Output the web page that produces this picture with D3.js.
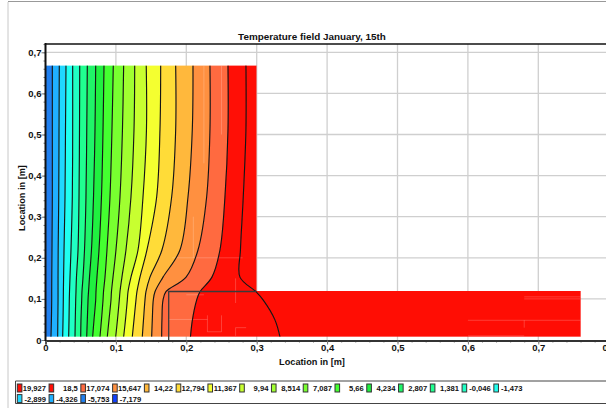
<!DOCTYPE html>
<html><head><meta charset="utf-8">
<script src="https://cdn.jsdelivr.net/npm/d3@7"></script>
<style>
html,body{margin:0;padding:0;background:#fff;overflow:hidden}
svg{display:block}
text{font-family:"Liberation Sans",Arial,sans-serif;font-weight:bold;fill:#111}
</style></head><body>
<svg id="c" width="606" height="408"></svg>
<script>
const titleText = "Temperature field January, 15th";
const axisLabel = "Location in [m]";
const xTicks = [0,0.1,0.2,0.3,0.4,0.5,0.6,0.7,0.8];
const yTicks = [0,0.1,0.2,0.3,0.4,0.5,0.6,0.7];
const legendLabels = ["19,927","18,5","17,074","15,647","14,22","12,794","11,367","9,94","8,514","7,087","5,66","4,234","2,807","1,381","-0,046","-1,473","-2,899","-4,326","-5,753","-7,179"];
const legendColors = ["#ff0d04","#ff0f06","#ff6a40","#ff9040","#ffb83c","#ffdc38","#f4ff30","#c8ff30","#a0ff30","#78ff30","#44ff30","#20f040","#20f468","#20ff90","#20ffc4","#20fff0","#20d8ff","#20b0ff","#2080f0","#1040ff"];
const levels = [0.668,0.511,0.348,0.219,0.153,0.1175,0.097,0.049,0.008];
const iso01 = [.0097,.0097,.0097,.0092,.0089,.0088,.0088,.0084,.0078];
const iso02 = [.0196,.0192,.0188,.0180,.0178,.0178,.0178,.0175,.0173];
const iso03 = [.0291,.0284,.0277,.0263,.0257,.0254,.0253,.0249,.0244];
const iso04 = [.0386,.0386,.0381,.0362,.0348,.0341,.0338,.0334,.0329];
const iso05 = [.0486,.0483,.0476,.0462,.0440,.0433,.0429,.0423,.0419];
const iso06 = [.0594,.0586,.0575,.0554,.0533,.0518,.0514,.0504,.0500];
const iso07 = [.0713,.0703,.0682,.0653,.0625,.0611,.0604,.0594,.0585];
const iso08 = [.0831,.0817,.0795,.0760,.0731,.0717,.0713,.0689,.0670];
const iso09 = [.0963,.0944,.0916,.0873,.0845,.0824,.0817,.0795,.0774];
const iso10 = [.1110,.1093,.1058,.1001,.0959,.0937,.0930,.0902,.0878];
const iso11 = [.1267,.1257,.1214,.1143,.1086,.1058,.1048,.1022,.0997];
const iso12 = [.1431,.1434,.1385,.1314,.1214,.1172,.1162,.1136,.1110];
const iso13 = [.1636,.1626,.1579,.1441,.1342,.1299,.1285,.1257,.1233];
const iso14 = [.1849,.1849,.1792,.1654,.1484,.1427,.1413,.1392,.1375];
const iso15 = [.2095,.2085,.2024,.1910,.1669,.1555,.1531,.1517,.1508];
const iso16 = [.2336,.2336,.2289,.2166,.1997,.1711,.1669,.1654,.1650];
const iso17 = [.2592,.2592,.2549,.2478,.2364,.2194,.2147,.2087,.2059];
const iso18 = [.2847,.2847,.2809,.2769,.2762,.2989,.3093,.3259,.3330];
const isotherms = [iso01,iso02,iso03,iso04,iso05,iso06,iso07,iso08,iso09,iso10,iso11,iso12,iso13,iso14,iso15,iso16,iso17,iso18];
// L-shaped domain outline [x, y] in metres
const domain = [[0,0.668],[0.2997,0.668],[0.2997,0.119],[0.7603,0.119],[0.7603,0.008],[0,0.008]];
// Material boundary between layers
const boundary = [[0.175,0],[0.175,0.118],[0.2997,0.118]];
// Faint mesh artefacts [x0,y0,x1,y1]
const mesh = [[0.68,0.105,0.76,0.105],[0.68,0.1,0.76,0.1],[0.6,0.048,0.76,0.048],[0.68,0.048,0.68,0.03],[0.23,0.06,0.23,0.02],[0.23,0.02,0.25,0.02],[0.25,0.06,0.25,0.02],[0.27,0.03,0.285,0.03],[0.27,0.03,0.27,0.01],[0.6,0.01,0.68,0.01],[0.175,0.05,0.23,0.05],[0.2,0.11,0.225,0.11],[0.225,0.43,0.225,0.668],[0.25,0.5,0.25,0.668],[0.18,0.2,0.28,0.2],[0.27,0.15,0.27,0.09],[0.21,0.3,0.21,0.2]];

const svg = d3.select("#c");
const x = d3.scaleLinear().domain([0,0.8]).range([45.5,608.7]);
const y = d3.scaleLinear().domain([0,0.7]).range([340,52.3]);
const plotTop = 44;
const fmt = d => d===0 ? "0" : d3.format(".1f")(d).replace(".",",");

// outer frame
svg.append("line").attr("x1",8).attr("x2",8).attr("y1",2).attr("y2",408).attr("stroke","#c8c8c8");
svg.append("line").attr("x1",8).attr("x2",606).attr("y1",1.5).attr("y2",1.5).attr("stroke","#999");

// grid
svg.append("g").selectAll("line").data(xTicks.slice(1)).join("line")
  .attr("x1",x).attr("x2",x).attr("y1",plotTop).attr("y2",340).attr("stroke","#cfcfcf").attr("stroke-width",1.3);
svg.append("g").selectAll("line").data(yTicks.slice(1)).join("line")
  .attr("x1",45).attr("x2",606).attr("y1",y).attr("y2",y).attr("stroke","#cfcfcf").attr("stroke-width",1.3);

// clip
const lineXY = d3.line().x(d=>x(d[0])).y(d=>y(d[1]));
svg.append("clipPath").attr("id","dom").append("path").attr("d",lineXY(domain)+"Z");
const field = svg.append("g").attr("clip-path","url(#dom)");

// bands
const n = isotherms.length;
const bandCurve = d3.curveCatmullRom.alpha(0.5);
for(let i=0;i<=n;i++){
  const left = i===0 ? levels.map(()=>0) : isotherms[i-1];
  const right = i===n ? levels.map(()=>0.7603) : isotherms[i];
  const area = d3.area().curve(bandCurve).y(d=>y(d.l)).x0(d=>x(d.a)).x1(d=>x(d.b));
  field.append("path").attr("d",area(levels.map((l,k)=>({l,a:left[k],b:right[k]}))))
    .attr("fill",legendColors[n-i]).attr("stroke",legendColors[n-i]).attr("stroke-width",0.4);
}
// mesh artefacts
field.append("g").selectAll("line").data(mesh).join("line")
  .attr("x1",d=>x(d[0])).attr("y1",d=>y(d[1])).attr("x2",d=>x(d[2])).attr("y2",d=>y(d[3]))
  .attr("stroke","#fff").attr("stroke-opacity",0.2).attr("stroke-width",1);
// isotherms
const isoLine = d3.line().curve(bandCurve).x(d=>x(d[0])).y(d=>y(d[1]));
field.append("g").selectAll("path").data(isotherms).join("path")
  .attr("d",v=>isoLine(v.map((a,k)=>[a,levels[k]])))
  .attr("fill","none").attr("stroke","#151515").attr("stroke-width",1.15);
// boundary
svg.append("path").attr("d",lineXY(boundary)).attr("fill","none").attr("stroke","#3a3a3a").attr("stroke-width",1.3);

// axes
const minorX = d3.range(0,41).map(i=>i*0.02);
const minorY = d3.range(0,37).map(i=>i*0.02);
const gx = svg.append("g").attr("transform","translate(0,340.5)")
  .call(d3.axisBottom(x).tickValues(minorX).tickSize(2).tickFormat(""));
gx.selectAll("line").attr("stroke","#777");
gx.select(".domain").remove();
const gxM = svg.append("g").attr("transform","translate(0,340.5)")
  .call(d3.axisBottom(x).tickValues(xTicks).tickSize(4).tickPadding(0).tickFormat(fmt));
gxM.select(".domain").attr("stroke","#333").attr("stroke-width",2);
gxM.selectAll("line").attr("stroke","#777");
gxM.selectAll("text").attr("font-size",9.5).attr("fill","#111");
const gy = svg.append("g").attr("transform","translate(45.5,0)")
  .call(d3.axisLeft(y).tickValues(minorY).tickSize(2).tickFormat(""));
gy.selectAll("line").attr("stroke","#777");
gy.select(".domain").remove();
const gyM = svg.append("g").attr("transform","translate(45.5,0)")
  .call(d3.axisLeft(y).tickValues(yTicks).tickSize(4).tickPadding(0).tickFormat(fmt));
gyM.select(".domain").remove();
gyM.selectAll("line").attr("stroke","#777");
gyM.selectAll("text").attr("font-size",9.5).attr("fill","#111");
svg.append("line").attr("x1",45.5).attr("x2",45.5).attr("y1",plotTop-1).attr("y2",341).attr("stroke","#111").attr("stroke-width",2);
svg.append("line").attr("x1",45).attr("x2",606).attr("y1",plotTop).attr("y2",plotTop).attr("stroke","#111").attr("stroke-width",1.6);

// titles
svg.append("text").attr("x",312).attr("y",39.5).attr("text-anchor","middle").attr("font-size",9.9).text(titleText);
svg.append("text").attr("x",312).attr("y",365).attr("text-anchor","middle").attr("font-size",9.2).text(axisLabel);
svg.append("text").attr("transform","translate(25,198) rotate(-90)").attr("text-anchor","middle").attr("font-size",9.2).text(axisLabel);

// legend
svg.append("line").attr("x1",15.5).attr("x2",606).attr("y1",381).attr("y2",381).attr("stroke","#444");
svg.append("line").attr("x1",15.5).attr("x2",606).attr("y1",403.5).attr("y2",403.5).attr("stroke","#444");
svg.append("line").attr("x1",15.5).attr("x2",15.5).attr("y1",381).attr("y2",403.5).attr("stroke","#444");
const perRow = 16, colW = 31.77;
const lg = svg.append("g").selectAll("g").data(legendLabels).join("g")
  .attr("transform",(d,i)=>`translate(${16.8+(i%perRow)*colW},${383.5+Math.floor(i/perRow)*10.6})`);
lg.append("rect").attr("x",0.5).attr("y",0.5).attr("width",4.6).attr("height",8).attr("stroke","#333").attr("stroke-width",1)
  .attr("fill",(d,i)=>legendColors[i]);
lg.append("text").attr("x",29.2).attr("y",7.6).attr("text-anchor","end").attr("font-size",7.6).text(d=>d);
</script>
</body></html>
